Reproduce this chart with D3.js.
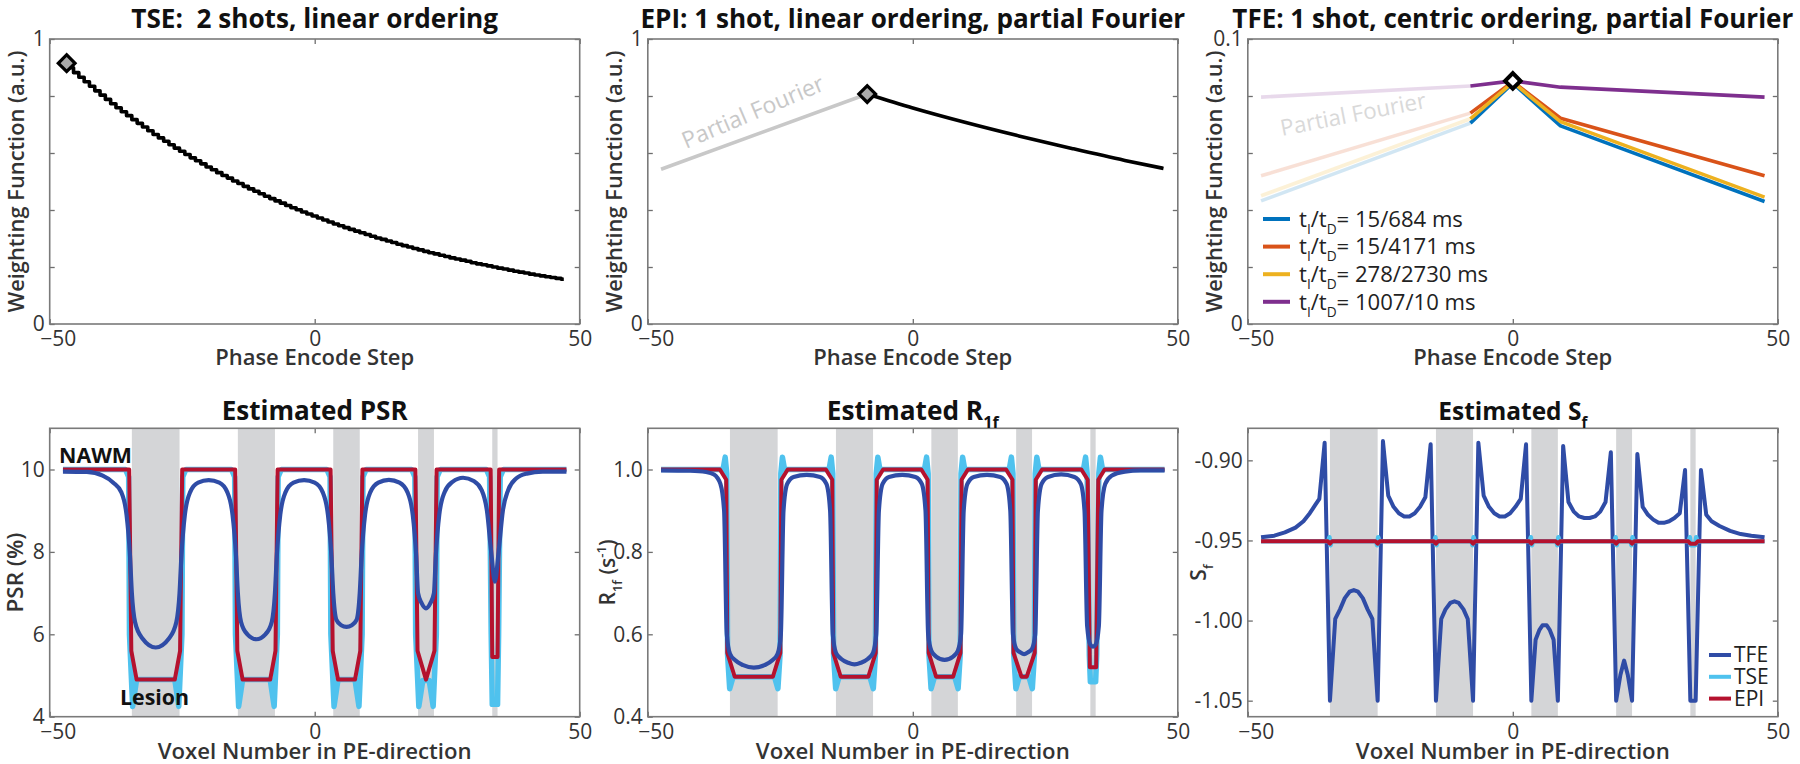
<!DOCTYPE html>
<html><head><meta charset="utf-8">
<script src="https://cdn.jsdelivr.net/npm/d3@7"></script>
<style>
body{margin:0;background:#fff;}
svg text{font-family:"Open Sans",Lato,sans-serif;}
</style></head><body>
<svg id="chart" width="1800" height="764"></svg>
<script>
// ---------------- DATA ----------------
const xTicks = [-50, 0, 50];
const weightTicks = [0, 0.2, 0.4, 0.6, 0.8, 1];
const weightTickLabels = ["0", "", "", "", "", "1"];
const tfeWeightTicks = [0, 0.02, 0.04, 0.06, 0.08, 0.1];
const tfeWeightTickLabels = ["0", "", "", "", "", "0.1"];
const psrTicks = [4, 6, 8, 10];
const r1fTicks = [0.4, 0.6, 0.8, 1.0];
const r1fTickLabels = ["0.4", "0.6", "0.8", "1.0"];
const sfTicks = [-1.05, -1.00, -0.95, -0.90];
const sfTickLabels = ["-1.05", "-1.00", "-0.95", "-0.90"];

// Panel 1: TSE weighting per phase-encode step (-47..47)
const tseSteps = d3.range(-47, 48);
const tseWeights = [
0.916,0.899,0.882,0.866,0.850,0.834,0.818,0.803,0.788,0.773,
0.759,0.745,0.731,0.717,0.704,0.691,0.678,0.665,0.653,0.641,
0.629,0.617,0.606,0.595,0.583,0.573,0.562,0.551,0.541,0.531,
0.521,0.512,0.502,0.493,0.483,0.474,0.466,0.457,0.448,0.440,
0.432,0.424,0.416,0.408,0.401,0.393,0.386,0.379,0.372,0.365,
0.358,0.351,0.345,0.338,0.332,0.326,0.320,0.314,0.308,0.302,
0.297,0.291,0.286,0.280,0.275,0.270,0.265,0.260,0.255,0.250,
0.246,0.241,0.237,0.232,0.228,0.224,0.220,0.215,0.211,0.208,
0.204,0.200,0.196,0.193,0.189,0.185,0.182,0.179,0.175,0.172,
0.169,0.166,0.163,0.160,0.157];
const tseCenter = [-46.8, 0.915];

// Panel 2: EPI
const epiPartialX = [-47.5, -8.6];
const epiPartialY = [0.543, 0.807];
const epiX = [-8.6, 0, 10, 20, 30, 40, 47.3];
const epiY = [0.807, 0.758, 0.707, 0.660, 0.616, 0.574, 0.546];

// Panel 3: TFE
const tfeX = [-47.5, -8, 0, 9, 47.5];
const tfeLabels = ["15/684 ms", "15/4171 ms", "278/2730 ms", "1007/10 ms"];
const tfeBlue   = [0.0432, 0.0705, 0.0845, 0.0695, 0.0430];
const tfeRed    = [0.0520, 0.0740, 0.0850, 0.0722, 0.0520];
const tfeYellow = [0.0450, 0.0720, 0.0848, 0.0710, 0.0445];
const tfePurple = [0.0796, 0.0835, 0.0853, 0.0831, 0.0796];
const tfeColors = ["#0072BD", "#D95319", "#EDB120", "#7E2F8E"];

// Lesions
const lesionStart = [-34.5, -14.5, 3.5, 19.5, 33.5];
const lesionEnd   = [-25.5, -7.5, 8.5, 22.5, 34.5];

// Panel 4: PSR
const psrTSE = [[-47.5,10],
[-35.7,10],[-35.1,9.82],[-34.95,6.0],[-34.35,4.25],[-33.6,4.9],[-26.4,4.9],[-25.65,4.25],[-25.05,6.0],[-24.9,9.82],[-24.3,10],
[-15.7,10],[-15.1,9.82],[-14.95,6.0],[-14.35,4.25],[-13.6,4.9],[-8.4,4.9],[-7.65,4.25],[-7.05,6.0],[-6.9,9.82],[-6.3,10],
[2.3,10],[2.9,9.82],[3.05,6.0],[3.65,4.25],[4.4,4.9],[7.6,4.9],[8.35,4.25],[8.95,6.0],[9.1,9.82],[9.7,10],
[18.3,10],[18.9,9.82],[19.05,6.0],[19.65,4.25],[20.4,4.88],[21.6,4.88],[22.35,4.25],[22.95,6.0],[23.1,9.82],[23.7,10],
[32.4,10],[33.0,9.82],[33.3,6.0],[33.5,4.3],[34.5,4.3],[34.7,6.0],[35.0,9.82],[35.6,10],
[47.5,10]];
const psrEPI = [[-47.5,10],[-35,10],[-34.6,5.6],[-33.6,4.9],[-26.4,4.9],[-25.4,5.6],[-25,10],
[-15,10],[-14.6,5.6],[-13.6,4.9],[-8.4,4.9],[-7.4,5.6],[-7,10],
[3,10],[3.4,5.6],[4.4,4.9],[7.6,4.9],[8.6,5.6],[9,10],
[19,10],[19.4,5.6],[21,4.9],[22.6,5.6],[23,10],
[33.2,10],[33.5,5.45],[34.5,5.45],[34.8,10],[47.5,10]];
const psrTFE = [[-47.5,9.95],[-43,9.94],[-40,9.85],[-38,9.68],[-36.5,9.45],[-35.5,8.9],[-34.85,7.9],[-34.5,7.0],[-33.9,6.3],[-32.5,5.9],[-30,5.68],[-27.5,5.9],[-26.1,6.3],[-25.5,7.0],[-25.15,7.9],[-24.5,8.9],[-23.5,9.45],[-22,9.68],[-20,9.74],[-18,9.68],[-16.5,9.45],[-15.5,8.9],[-14.85,7.9],[-14.5,7.0],[-13.9,6.3],[-12.7,6.0],[-11,5.88],[-9.3,6.0],[-8.1,6.3],[-7.5,7.0],[-7.15,7.9],[-6.5,8.9],[-5.5,9.45],[-4,9.68],[-2,9.74],[0,9.68],[1.5,9.45],[2.5,8.9],[3.15,7.9],[3.5,7.0],[4.1,6.35],[5,6.22],[6,6.18],[7,6.22],[7.9,6.35],[8.5,7.0],[8.85,7.9],[9.5,8.9],[10.5,9.45],[12,9.68],[14,9.75],[16,9.68],[17.5,9.45],[18.5,8.9],[19.15,7.9],[19.5,7.0],[20.2,6.75],[21,6.63],[21.8,6.75],[22.5,7.0],[22.85,7.9],[23.5,8.9],[24.5,9.45],[26,9.7],[28,9.8],[30,9.72],[31.5,9.5],[32.5,9.0],[33.3,8.0],[34,7.28],[34.7,8.0],[35.5,9.0],[36.5,9.5],[38,9.78],[40,9.9],[43,9.95],[47.5,9.95]];

// Panel 5: R1f
const r1fTSE = [[-47.5,1.0],
[-35.8,1.0],[-35.4,1.03],[-35.1,0.99],[-34.95,0.55],[-34.55,0.468],[-33.9,0.497],[-26.1,0.497],[-25.45,0.468],[-25.05,0.55],[-24.9,0.99],[-24.6,1.03],[-24.2,1.0],
[-15.8,1.0],[-15.4,1.03],[-15.1,0.99],[-14.95,0.55],[-14.55,0.468],[-13.9,0.497],[-8.1,0.497],[-7.45,0.468],[-7.05,0.55],[-6.9,0.99],[-6.6,1.03],[-6.2,1.0],
[2.2,1.0],[2.6,1.03],[2.9,0.99],[3.05,0.55],[3.45,0.468],[4.1,0.497],[7.9,0.497],[8.55,0.468],[8.95,0.55],[9.1,0.99],[9.4,1.03],[9.8,1.0],
[18.2,1.0],[18.6,1.03],[18.9,0.99],[19.05,0.55],[19.45,0.468],[20.1,0.497],[21.9,0.497],[22.55,0.468],[22.95,0.55],[23.1,0.99],[23.4,1.03],[23.8,1.0],
[32.2,1.0],[32.6,1.03],[32.9,0.99],[33.3,0.55],[33.5,0.485],[34.5,0.485],[34.7,0.55],[35.1,0.99],[35.4,1.03],[35.8,1.0],
[47.5,1.0]];
const r1fEPI = [[-47.5,1.0],[-36.4,1.0],[-35.2,0.975],[-35.0,0.555],[-33.6,0.497],[-26.4,0.497],[-25.0,0.555],[-24.8,0.975],[-23.6,1.0],
[-16.4,1.0],[-15.2,0.975],[-15.0,0.555],[-13.6,0.497],[-8.4,0.497],[-7.0,0.555],[-6.8,0.975],[-5.6,1.0],
[1.6,1.0],[2.8,0.975],[3.0,0.555],[4.4,0.497],[7.6,0.497],[9.0,0.555],[9.2,0.975],[10.4,1.0],
[17.6,1.0],[18.8,0.975],[19.0,0.555],[20.5,0.497],[21.5,0.497],[23.0,0.555],[23.2,0.975],[24.4,1.0],
[31.8,1.0],[33.0,0.975],[33.4,0.52],[34.6,0.52],[35.0,0.975],[36.2,1.0],[47.5,1.0]];
const r1fTFE = [[-47.5,0.998],[-42,0.997],[-39,0.994],[-37.5,0.988],[-36.3,0.965],[-35.6,0.9],[-35.1,0.6],[-34.5,0.553],[-33.5,0.537],[-32,0.525],[-30,0.519],[-28,0.525],[-26.5,0.537],[-25.5,0.553],[-24.9,0.6],[-24.4,0.9],[-23.7,0.965],[-22.5,0.982],[-20,0.987],[-17.5,0.982],[-16.3,0.965],[-15.6,0.9],[-15.1,0.6],[-14.5,0.555],[-13.5,0.54],[-12.2,0.531],[-11,0.527],[-9.8,0.531],[-8.5,0.54],[-7.5,0.555],[-6.9,0.6],[-6.4,0.9],[-5.7,0.965],[-4.5,0.982],[-2,0.987],[0.5,0.982],[1.7,0.965],[2.4,0.9],[2.9,0.6],[3.5,0.56],[4.4,0.546],[6,0.538],[7.6,0.546],[8.5,0.56],[9.1,0.6],[9.6,0.9],[10.3,0.965],[11.5,0.982],[14,0.987],[16.5,0.982],[17.7,0.965],[18.4,0.9],[18.9,0.6],[19.5,0.565],[20.3,0.556],[21,0.552],[21.7,0.556],[22.5,0.565],[23.1,0.6],[23.6,0.9],[24.3,0.965],[25.5,0.982],[28,0.988],[30.5,0.982],[31.7,0.965],[32.4,0.9],[32.9,0.62],[33.5,0.575],[34,0.57],[34.5,0.575],[35.1,0.62],[35.6,0.9],[36.3,0.965],[37.5,0.985],[40,0.995],[43,0.998],[47.5,0.998]];

// Panel 6: Sf
const sfTSE = [[-47.5,-0.9505],[-34.8,-0.9505],[-34.6,-0.948],[-34.4,-0.953],[-34.2,-0.9505],[-25.8,-0.9505],[-25.6,-0.953],[-25.4,-0.948],[-25.2,-0.9505],
[-14.8,-0.9505],[-14.6,-0.948],[-14.4,-0.953],[-14.2,-0.9505],[-7.8,-0.9505],[-7.6,-0.953],[-7.4,-0.948],[-7.2,-0.9505],
[3.2,-0.9505],[3.4,-0.948],[3.6,-0.953],[3.8,-0.9505],[8.2,-0.9505],[8.4,-0.953],[8.6,-0.948],[8.8,-0.9505],
[19.2,-0.9505],[19.4,-0.948],[19.6,-0.953],[19.8,-0.9505],[22.2,-0.9505],[22.4,-0.953],[22.6,-0.948],[22.8,-0.9505],
[33.2,-0.9505],[33.4,-0.948],[33.6,-0.953],[34.4,-0.953],[34.6,-0.948],[34.8,-0.9505],[47.5,-0.9505]];
const sfEPI = [[-47.5,-0.9505],[-34.9,-0.9505],[-34.5,-0.952],[-34.1,-0.9505],[-25.9,-0.9505],[-25.5,-0.952],[-25.1,-0.9505],
[-14.9,-0.9505],[-14.5,-0.952],[-14.1,-0.9505],[-7.9,-0.9505],[-7.5,-0.952],[-7.1,-0.9505],
[3.1,-0.9505],[3.5,-0.952],[3.9,-0.9505],[8.1,-0.9505],[8.5,-0.952],[8.9,-0.9505],
[19.1,-0.9505],[19.5,-0.952],[19.9,-0.9505],[22.1,-0.9505],[22.5,-0.952],[22.9,-0.9505],
[33.1,-0.9505],[33.5,-0.952],[34.5,-0.952],[34.9,-0.9505],[47.5,-0.9505]];
const sfTFE = [[-47.5,-0.948],[-45,-0.947],[-43,-0.945],[-41,-0.942],[-39.5,-0.938],[-38.3,-0.933],[-37.3,-0.928],[-36.5,-0.924],[-35.5,-0.889],[-34.5,-1.05],[-33.5,-0.999],[-32.6,-0.993],[-31.7,-0.986],[-30.8,-0.982],[-30,-0.981],[-29.2,-0.982],[-28.3,-0.986],[-27.4,-0.993],[-26.5,-0.999],[-25.5,-1.05],[-24.5,-0.888],[-23.5,-0.922],[-22.5,-0.929],[-21.5,-0.933],[-20.5,-0.935],[-19.5,-0.935],[-18.5,-0.933],[-17.5,-0.929],[-16.5,-0.923],[-15.5,-0.890],[-14.5,-1.05],[-13.5,-0.999],[-12.7,-0.993],[-11.8,-0.989],[-11,-0.988],[-10.2,-0.989],[-9.3,-0.993],[-8.5,-0.999],[-7.5,-1.05],[-6.5,-0.889],[-5.5,-0.922],[-4.5,-0.929],[-3.5,-0.933],[-2.5,-0.935],[-1.5,-0.935],[-0.5,-0.933],[0.5,-0.929],[1.5,-0.924],[2.5,-0.890],[3.5,-1.05],[4.3,-1.012],[5,-1.006],[5.6,-1.003],[6.4,-1.003],[7,-1.006],[7.7,-1.012],[8.5,-1.05],[9.5,-0.891],[10.5,-0.926],[11.5,-0.932],[12.5,-0.935],[13.5,-0.936],[14.5,-0.936],[15.5,-0.935],[16.5,-0.932],[17.5,-0.926],[18.5,-0.895],[19.5,-1.05],[20.3,-1.034],[21,-1.025],[21.7,-1.034],[22.5,-1.05],[23.5,-0.896],[24.5,-0.929],[25.5,-0.934],[26.5,-0.937],[27.5,-0.939],[28.5,-0.939],[29.5,-0.938],[30.5,-0.936],[31.5,-0.933],[32.5,-0.906],[33.5,-1.05],[34.5,-1.05],[35.5,-0.906],[36.5,-0.934],[37.5,-0.938],[39,-0.941],[41,-0.944],[43,-0.946],[45,-0.947],[47.5,-0.948]];
const bottomLegend = ["TFE", "TSE", "EPI"];

// ---------------- STYLE / LAYOUT ----------------
const C_TFE = "#2f4ca6", C_TSE = "#4fc2ee", C_EPI = "#b5122e", C_BAND = "#d4d5d7";
const colLeft = [49.7, 647.8, 1247.8], colWidth = 530;
const topRow = {top: 39, bottom: 324}, botRow = {top: 428.3, bottom: 716.7};
const svg = d3.select("#chart");

function rich(sel, parts, fs) {
  sel.selectAll("tspan").remove();
  let cur = 0;
  parts.forEach(p => {
    const target = p.sub ? fs * 0.32 : p.sup ? -fs * 0.4 : 0;
    sel.append("tspan").attr("dy", target - cur)
      .attr("font-size", (p.sub || p.sup) ? fs * 0.62 : fs).text(p.t);
    cur = target;
  });
}
// build rich text, then rescale its font so its length matches the reference length
function fitRich(sel, parts, fs, targetLen) {
  rich(sel, parts, fs);
  if (targetLen) {
    const w = sel.node().getComputedTextLength();
    if (w > 0) rich(sel, parts, fs * targetLen / w);
  }
}

function makePanel(col, row, yDomain, yTickVals, yTickLabels, o) {
  const x = d3.scaleLinear().domain([-50, 50]).range([colLeft[col], colLeft[col] + colWidth]);
  const y = d3.scaleLinear().domain(yDomain).range([row.bottom, row.top]);
  const g = svg.append("g");
  const plot = g.append("g");
  const axes = g.append("g");
  const ax = (axis, tx, ty) => {
    const a = axes.append("g").attr("transform", `translate(${tx},${ty})`).call(axis);
    a.select(".domain").remove();
    a.selectAll(".tick line").attr("stroke", "#6e6e6e").attr("stroke-width", 1.3);
    a.selectAll(".tick text").attr("font-size", 21).attr("fill", "#333").attr("font-family", "Open Sans");
    return a;
  };
  const xb = ax(d3.axisBottom(x).tickValues(xTicks).tickSize(-5).tickPadding(7 + (o.xPadExtra || 0)), 0, row.bottom);
  xb.selectAll(".tick text").attr("dx", d => d < 0 ? 8 : 0);
  ax(d3.axisTop(x).tickValues(xTicks).tickSize(-5).tickFormat(""), 0, row.top);
  ax(d3.axisLeft(y).tickValues(yTickVals).tickSize(-5).tickPadding(5).tickFormat((d, i) => yTickLabels[i]), colLeft[col], 0);
  ax(d3.axisRight(y).tickValues(yTickVals).tickSize(-5).tickFormat(""), colLeft[col] + colWidth, 0);
  axes.append("rect").attr("x", colLeft[col]).attr("y", row.top)
    .attr("width", colWidth).attr("height", row.bottom - row.top)
    .attr("fill", "none").attr("stroke", "#7a7a7a").attr("stroke-width", 1.6);
  const cx = colLeft[col] + colWidth / 2;
  const t = g.append("text").attr("x", cx + (o.titleDx || 0)).attr("y", o.titleY).attr("text-anchor", "middle")
    .attr("font-weight", 700).attr("fill", "#111").style("white-space", "pre");
  fitRich(t, o.title, 24, o.titleLen);
  const xl = g.append("text").attr("x", cx).attr("y", o.xLabelY).attr("text-anchor", "middle")
    .attr("font-weight", 600).attr("fill", "#333");
  fitRich(xl, [{t: o.xLabel}], 22, o.xLabelLen);
  const yl = g.append("text").attr("text-anchor", "middle").attr("font-weight", 600).attr("fill", "#333")
    .attr("transform", `translate(${colLeft[col] + o.yLabelDx},${(row.top + row.bottom) / 2}) rotate(-90)`);
  fitRich(yl, o.yLabel, 21, o.yLabelLen);
  return {x, y, plot, g};
}

function addLine(p, data, color, width, curve, opacity) {
  p.plot.append("path").datum(data)
    .attr("d", d3.line().x(d => p.x(d[0])).y(d => p.y(d[1])).curve(curve || d3.curveLinear))
    .attr("fill", "none").attr("stroke", color).attr("stroke-width", width)
    .attr("stroke-linejoin", "round").attr("stroke-linecap", "butt")
    .attr("opacity", opacity == null ? 1 : opacity);
}
function diamond(p, xv, yv, fill, sw, size) {
  p.plot.append("path").attr("d", d3.symbol(d3.symbolSquare, size)())
    .attr("transform", `translate(${p.x(xv)},${p.y(yv)}) rotate(45)`)
    .attr("fill", fill).attr("stroke", "#000").attr("stroke-width", sw);
}

// ---------------- TOP ROW ----------------
const wlab = [{t: "Weighting Function (a.u.)"}];
const topOpts = {titleY: 28, xLabel: "Phase Encode Step", xLabelY: 365, xLabelLen: 199, yLabel: wlab, yLabelDx: -26, yLabelLen: 262};
const p1 = makePanel(0, topRow, [0, 1], weightTicks, weightTickLabels,
  Object.assign({}, topOpts, {title: [{t: "TSE:  2 shots, linear ordering"}], titleLen: 367}));
addLine(p1, tseSteps.map((s, i) => [s, tseWeights[i]]), "#000", 3.6, d3.curveStep);
diamond(p1, tseCenter[0], tseCenter[1], "#aaa", 3.2, 140);

const p2 = makePanel(1, topRow, [0, 1], weightTicks, weightTickLabels,
  Object.assign({}, topOpts, {title: [{t: "EPI: 1 shot, linear ordering, partial Fourier"}], titleLen: 545}));
addLine(p2, epiPartialX.map((v, i) => [v, epiPartialY[i]]), "#c8c8c8", 3.6);
addLine(p2, epiX.map((v, i) => [v, epiY[i]]), "#000", 3.6, d3.curveMonotoneX);
const pf2 = p2.plot.append("text").attr("transform", `translate(686,149) rotate(-23)`).attr("fill", "#c8c8c8");
fitRich(pf2, [{t: "Partial Fourier"}], 21, 152);
diamond(p2, epiX[0], epiY[0], "#aaa", 3.2, 140);

const p3 = makePanel(2, topRow, [0, 0.1], tfeWeightTicks, tfeWeightTickLabels,
  Object.assign({}, topOpts, {title: [{t: "TFE: 1 shot, centric ordering, partial Fourier"}], titleLen: 561}));
const tfeSeries = [tfeBlue, tfeRed, tfeYellow, tfePurple];
const pf3 = p3.plot.append("text").attr("transform", `translate(1282,136) rotate(-11)`).attr("fill", "#d9d9d9");
fitRich(pf3, [{t: "Partial Fourier"}], 21, 148);
tfeSeries.forEach((s, k) => addLine(p3, tfeX.slice(0, 2).map((v, i) => [v, s[i]]), tfeColors[k], 3.6, null, 0.18));
tfeSeries.forEach((s, k) => addLine(p3, tfeX.slice(1).map((v, i) => [v, s[i + 1]]), tfeColors[k], 3.6));
diamond(p3, 0, tfePurple[2], "#fff", 4, 120);
// legend panel 3
let legFs = null;
tfeLabels.forEach((lab, k) => {
  const yy = 219 + k * 27.6;
  p3.g.append("line").attr("x1", 1263).attr("x2", 1290).attr("y1", yy).attr("y2", yy)
    .attr("stroke", tfeColors[k]).attr("stroke-width", 4);
  const t = p3.g.append("text").attr("x", 1299).attr("y", yy + 7.7).attr("fill", "#222");
  const parts = [{t: "t"}, {t: "I", sub: true}, {t: "/t"}, {t: "D", sub: true}, {t: "= " + lab}];
  if (legFs === null) {
    fitRich(t, parts, 22, 164);
    legFs = +t.select("tspan").attr("font-size");
  } else {
    rich(t, parts, legFs);
  }
});

// ---------------- BOTTOM ROW ----------------
function bands(p) {
  lesionStart.forEach((s, i) => {
    p.plot.append("rect").attr("x", p.x(s)).attr("width", p.x(lesionEnd[i]) - p.x(s))
      .attr("y", botRow.top).attr("height", botRow.bottom - botRow.top).attr("fill", C_BAND);
  });
}
const botOpts = {titleY: 420, xLabel: "Voxel Number in PE-direction", xLabelY: 759, xLabelLen: 314, xPadExtra: 0};
const p4 = makePanel(0, botRow, [4, 11], psrTicks, psrTicks.map(String),
  Object.assign({}, botOpts, {title: [{t: "Estimated PSR"}], titleLen: 186, yLabel: [{t: "PSR (%)"}], yLabelDx: -26.5, yLabelLen: 80}));
bands(p4);
addLine(p4, psrTSE, C_TSE, 5.5);
addLine(p4, psrEPI, C_EPI, 4);
addLine(p4, psrTFE, C_TFE, 4.2, d3.curveMonotoneX);
const nawm = p4.g.append("text").attr("x", 59).attr("y", 463).attr("font-weight", 700).attr("fill", "#111");
fitRich(nawm, [{t: "NAWM"}], 23, 73);
const les = p4.g.append("text").attr("x", 120).attr("y", 705).attr("font-weight", 700).attr("fill", "#111");
fitRich(les, [{t: "Lesion"}], 23, 69);

const p5 = makePanel(1, botRow, [0.4, 1.1], r1fTicks, r1fTickLabels,
  Object.assign({}, botOpts, {title: [{t: "Estimated R"}, {t: "1f", sub: true}], titleLen: 172,
   yLabel: [{t: "R"}, {t: "1f", sub: true}, {t: " (s"}, {t: "-1", sup: true}, {t: ")"}], yLabelDx: -33}));
bands(p5);
addLine(p5, r1fTSE, C_TSE, 5.5);
addLine(p5, r1fEPI, C_EPI, 4);
addLine(p5, r1fTFE, C_TFE, 4.2, d3.curveMonotoneX);

const p6 = makePanel(2, botRow, [-1.06, -0.88], sfTicks, sfTickLabels,
  Object.assign({}, botOpts, {title: [{t: "Estimated S"}, {t: "f", sub: true}], titleLen: 149,
   yLabel: [{t: "S"}, {t: "f", sub: true}], yLabelDx: -42}));
bands(p6);
addLine(p6, sfTFE, C_TFE, 4);
addLine(p6, sfTSE, C_TSE, 4.6);
addLine(p6, sfEPI, C_EPI, 4);
[C_TFE, C_TSE, C_EPI].forEach((c, k) => {
  const yy = 655 + k * 21.8;
  p6.g.append("line").attr("x1", 1709).attr("x2", 1731).attr("y1", yy).attr("y2", yy).attr("stroke", c).attr("stroke-width", 4);
  p6.g.append("text").attr("x", 1734).attr("y", yy + 7).attr("font-size", 21).attr("fill", "#222").text(bottomLegend[k]);
});
</script>
</body></html>
